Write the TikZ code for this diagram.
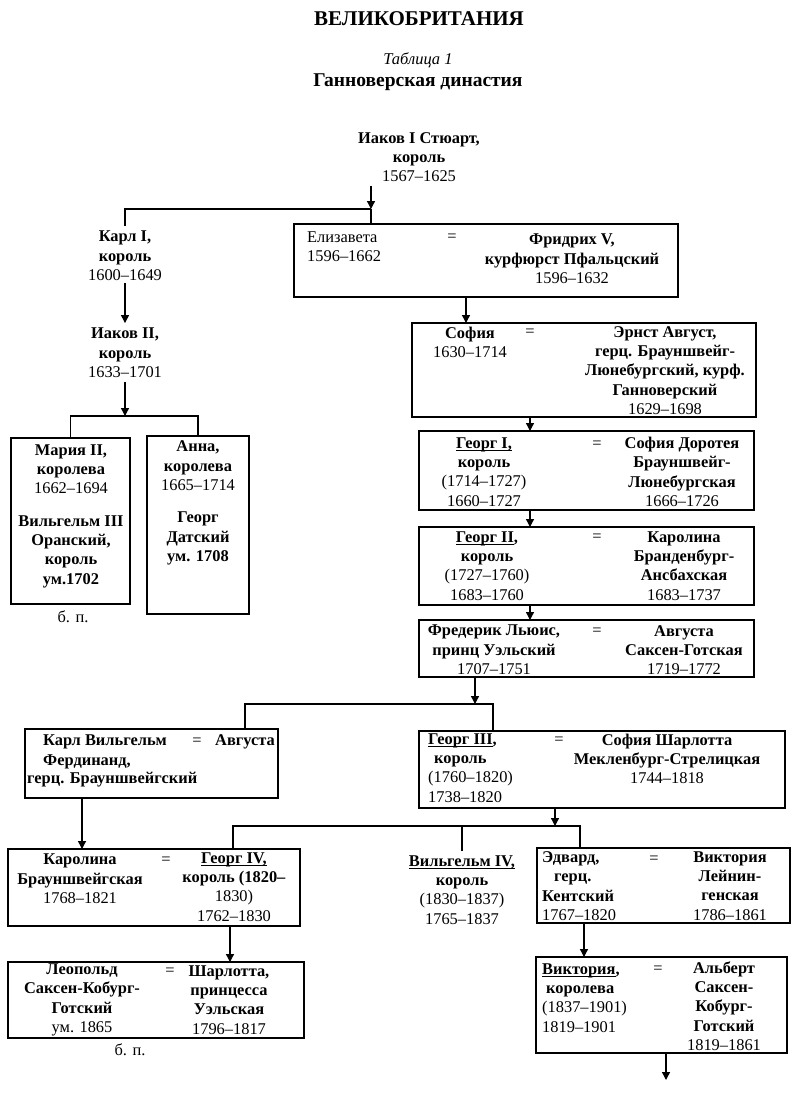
\documentclass[tikz,border=0pt]{standalone}
\usepackage{fontspec}
\setmainfont{Liberation Serif}
\usetikzlibrary{arrows.meta}
\newcommand\bnm[1]{\textbf{#1}}
\newcommand\ulin[1]{\setbox0\hbox{#1}\rlap{\rule[-2.2pt]{\wd0}{0.8pt}}\box0}
\newcommand\mkbox[5]{\node[box, minimum width={(#4-#2)*1pt}, minimum height={(#5-#3)*1pt}] (#1) at ({(#2+#4)/2},{(#3+#5)/2}) {};}
\begin{document}
\begin{tikzpicture}[x=1pt,y=-1pt,
 box/.style={draw, line width=1.3pt, inner sep=0pt, outer sep=0pt},
 t/.style={inner sep=0pt, align=center, font=\fontsize{16.4}{19.3}\selectfont},
 tl/.style={t, align=left, anchor=west},
 ln/.style={line width=1.3pt},
 arr/.style={line width=1.3pt, -{Triangle[length=8pt,width=8pt]}}]
\useasboundingbox (0,0) rectangle (796,1097);

% titles
\node[t,font=\fontsize{21}{24}\selectfont\bfseries] (title) at (419,19) {ВЕЛИКОБРИТАНИЯ};
\node[t,font=\fontsize{16.5}{19}\selectfont\itshape] (tab) at (418,60) {Таблица 1};
\node[t,font=\fontsize{19.5}{22}\selectfont\bfseries] (dyn) at (418,82) {Ганноверская династия};

% boxes
\mkbox{bmaria}{11}{438}{130}{604}
\mkbox{banna}{147}{436}{249}{614}
\mkbox{beliz}{294}{224}{678}{297}
\mkbox{bsofia}{412}{323}{756}{417}
\mkbox{bgeorg1}{419}{431}{754}{510}
\mkbox{bgeorg2}{419}{527}{754}{605}
\mkbox{bfred}{419}{620}{754}{677}
\mkbox{bkarlw}{25}{729}{278}{798}
\mkbox{bgeorg3}{419}{731}{785}{808}
\mkbox{bcaro}{8}{849}{300}{926}
\mkbox{bedw}{537}{848}{790}{923}
\mkbox{bleo}{8}{962}{304}{1038}
\mkbox{bvic}{536}{957}{787}{1053}

% texts
\node[t] (iak1) at (419,157) {\bnm{Иаков I Стюарт,}\\\bnm{король}\\1567–1625};
\node[t] (kar1) at (125,256) {\bnm{Карл I,}\\\bnm{король}\\1600–1649};
\node[t] (iak2) at (125,353) {\bnm{Иаков II,}\\\bnm{король}\\1633–1701};
\node[t] (tmaria) at (71,516) {\bnm{Мария II,}\\\bnm{королева}\\1662–1694\\[13pt]\bnm{Вильгельм III}\\\bnm{Оранский,}\\\bnm{король}\\\bnm{ум.1702}};
\node[t] (bp1) at (73,617) {б. п.};
\node[t] (tanna) at (198,503) {\bnm{Анна,}\\\bnm{королева}\\1665–1714\\[13pt]\bnm{Георг}\\\bnm{Датский}\\\bnm{ум. 1708}};

\node[tl] (eliz1) at (307,247) {Елизавета\\1596–1662};
\node[t] (eq1) at (452,238) {=};
\node[t] (frid) at (572,259) {\bnm{Фридрих V,}\\\bnm{курфюрст Пфальцский}\\1596–1632};

\node[t] (sof1) at (470,342.5) {\bnm{София}\\1630–1714};
\node[t] (eq2) at (530,333) {=};
\node[t] (ernst) at (665,370.5) {\bnm{Эрнст Август,}\\\bnm{герц. Брауншвейг-}\\\bnm{Люнебургский, курф.}\\\bnm{Ганноверский}\\1629–1698};

\node[t] (g1l) at (484,472) {\ulin{\bnm{Георг I,}}\\\bnm{король}\\(1714–1727)\\1660–1727};
\node[t] (eq3) at (597,445) {=};
\node[t] (g1r) at (682,472) {\bnm{София Доротея}\\\bnm{Брауншвейг-}\\\bnm{Люнебургская}\\1666–1726};

\node[t] (g2l) at (487,566) {\ulin{\bnm{Георг II}}\bnm{,}\\\bnm{король}\\(1727–1760)\\1683–1760};
\node[t] (eq4) at (597,538) {=};
\node[t] (g2r) at (684,566) {\bnm{Каролина}\\\bnm{Бранденбург-}\\\bnm{Ансбахская}\\1683–1737};

\node[t] (frl) at (494,650) {\bnm{Фредерик Льюис,}\\\bnm{принц Уэльский}\\1707–1751};
\node[t] (eq5) at (597,632) {=};
\node[t] (frr) at (684,650) {\bnm{Августа}\\\bnm{Саксен-Готская}\\1719–1772};

\node[t] (kw1) at (105,742) {\bnm{Карл Вильгельм}};
\node[t] (eq6) at (197,742) {=};
\node[t] (kw2) at (245,742) {\bnm{Августа}};
\node[t] (kw3) at (87,762) {\bnm{Фердинанд,}};
\node[tl] (kw4) at (27,780) {\bnm{герц. Брауншвейгский}};

\node[tl] (g3l) at (428,768) {\ulin{\bnm{Георг III}}\bnm{,}\\\hspace*{6pt}\bnm{король}\\(1760–1820)\\1738–1820};
\node[t] (eq7) at (559,741) {=};
\node[t] (g3r) at (667,759) {\bnm{София Шарлотта}\\\bnm{Мекленбург-Стрелицкая}\\1744–1818};

\node[t] (cal) at (80,879) {\bnm{Каролина}\\\bnm{Брауншвейгская}\\1768–1821};
\node[t] (eq8) at (166,861) {=};
\node[t] (car) at (234,887) {\ulin{\bnm{Георг IV,}}\\\bnm{король (1820–}\\1830)\\1762–1830};

\node[t] (wil4) at (462,890) {\ulin{\bnm{Вильгельм IV,}}\\\bnm{король}\\(1830–1837)\\1765–1837};

\node[tl] (edl) at (542,886) {\bnm{Эдвард,}\\\hspace*{12pt}\bnm{герц.}\\\bnm{Кентский}\\1767–1820};
\node[t] (eq9) at (654,860) {=};
\node[t] (edr) at (730,886) {\bnm{Виктория}\\\bnm{Лейнин-}\\\bnm{генская}\\1786–1861};

\node[t] (lel) at (82,1000) {\bnm{Леопольд}\\\bnm{Саксен-Кобург-}\\\bnm{Готский}\\ум. 1865};
\node[t] (eq10) at (170,972) {=};
\node[t] (ler) at (229,1000) {\bnm{Шарлотта,}\\\bnm{принцесса}\\\bnm{Уэльская}\\1796–1817};
\node[t] (bp2) at (130,1050) {б. п.};

\node[tl] (vil) at (542,998) {\ulin{\bnm{Виктория}}\bnm{,}\\\hspace*{4pt}\bnm{королева}\\(1837–1901)\\1819–1901};
\node[t] (eq11) at (658,970) {=};
\node[t] (vir) at (724,1006) {\bnm{Альберт}\\\bnm{Саксен-}\\\bnm{Кобург-}\\\bnm{Готский}\\1819–1861};

% connectors
\coordinate (j1) at (371,209);
\draw[arr] ([yshift=-4pt]iak1.south -| j1) -- (j1);
\draw[ln] (j1) -- (beliz.north -| j1);
\draw[ln] (j1) -| ([yshift=5pt]kar1.north);
\draw[arr] ([yshift=-2pt]kar1.south) -- ([yshift=5pt]iak2.north);
\coordinate (j2) at (125,416);
\draw[arr] ([yshift=-4pt]iak2.south) -- (j2);
\draw[ln] (bmaria.north) |- (j2) -| (banna.north);

\coordinate (c1) at (466,0);
\draw[arr] (beliz.south -| c1) -- (bsofia.north -| c1);
\coordinate (c2) at (530,0);
\draw[arr] (bsofia.south -| c2) -- (bgeorg1.north -| c2);
\draw[arr] (bgeorg1.south -| c2) -- (bgeorg2.north -| c2);
\draw[arr] (bgeorg2.south -| c2) -- (bfred.north -| c2);

\coordinate (j3) at (475,704);
\coordinate (k1) at (245,704);
\coordinate (k2) at (493,704);
\draw[arr] (bfred.south -| j3) -- (j3);
\draw[ln] (bkarlw.north -| k1) -- (k1) -- (k2) -- (bgeorg3.north -| k2);

\coordinate (c3) at (82,0);
\draw[arr] (bkarlw.south -| c3) -- (bcaro.north -| c3);

\coordinate (j4) at (555,826);
\coordinate (k3) at (233,826);
\coordinate (k4) at (580,826);
\coordinate (k5) at (462,826);
\draw[arr] (bgeorg3.south -| j4) -- (j4);
\draw[ln] (bcaro.north -| k3) -- (k3) -- (k4) -- (bedw.north -| k4);
\draw[ln] (k5) -- ([yshift=4pt]wil4.north -| k5);

\coordinate (c4) at (230,0);
\draw[arr] (bcaro.south -| c4) -- (bleo.north -| c4);
\coordinate (c5) at (584,0);
\draw[arr] (bedw.south -| c5) -- (bvic.north -| c5);
\coordinate (vend) at (666,1080);
\draw[arr] (bvic.south -| vend) -- (vend);
\end{tikzpicture}
\end{document}
